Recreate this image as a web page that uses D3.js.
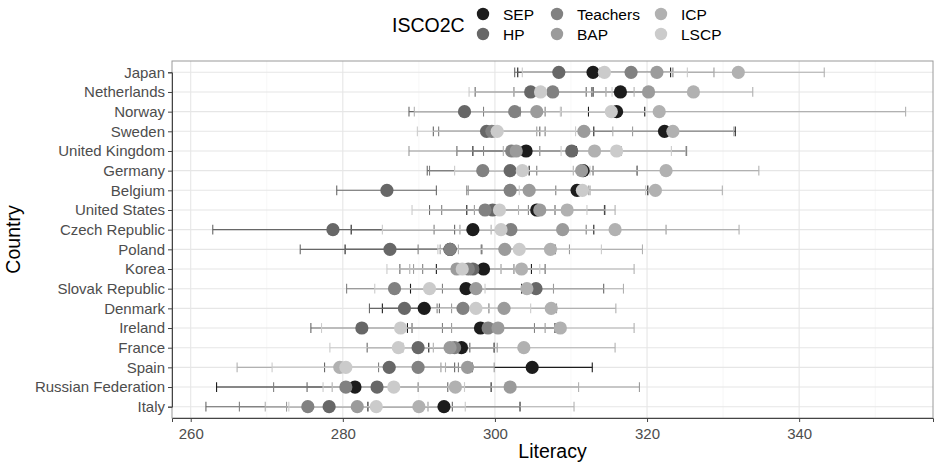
<!DOCTYPE html>
<html>
<head>
<meta charset="utf-8">
<script src="https://cdn.jsdelivr.net/npm/d3@7"></script>
<style>
  body { margin: 0; background: #fff; }
  svg { font-family: "Liberation Sans", Arial, sans-serif; }
</style>
</head>
<body>
<svg width="936" height="462"></svg>
<script>
// countries, top to bottom
var countries = ["Japan", "Netherlands", "Norway", "Sweden", "United Kingdom", "Germany",
  "Belgium", "United States", "Czech Republic", "Poland", "Korea", "Slovak Republic",
  "Denmark", "Ireland", "France", "Spain", "Russian Federation", "Italy"];

var groups = ["SEP", "HP", "Teachers", "BAP", "ICP", "LSCP"];
var groupColors = ["#1c1c1c", "#676767", "#818181", "#9b9b9b", "#b1b1b1", "#cbcbcb"];

var xTicks = [260, 280, 300, 320, 340];

// literacy estimates and interval ends, one value per country
var sepEst = [312.9, 316.5, 316.0, 322.3, 304.1, 311.6, 310.8, 305.5, 297.1, 294.1, 298.5, 296.2, 290.7, 298.1, 295.6, 304.9, 281.6, 293.3];
var sepLo  = [303.0, 312.9, 312.3, 313.0, 297.1, 304.5, 301.5, 296.3, 281.1, 280.3, 292.3, 288.9, 285.2, 288.5, 291.3, 297.0, 263.4, 283.3];
var sepHi  = [323.1, 320.1, 319.7, 331.6, 310.7, 318.7, 320.1, 314.4, 313.0, 307.9, 304.8, 303.5, 296.2, 307.9, 299.9, 312.8, 299.5, 303.3];

var hpEst = [308.4, 304.7, 296.0, 298.9, 310.1, 302.0, 285.8, 299.7, 278.7, 286.2, 297.1, 305.4, 288.1, 282.5, 289.9, 286.1, 284.5, 278.2];
var hpLo  = [302.6, 297.4, 288.7, 291.9, 295.0, 291.1, 279.2, 291.4, 262.9, 274.4, 287.5, 296.4, 283.5, 275.8, 283.2, 277.6, 275.3, 262.0];
var hpHi  = [314.2, 312.0, 303.3, 305.9, 325.2, 312.9, 292.3, 307.9, 294.7, 298.2, 306.6, 314.3, 292.7, 289.1, 296.7, 294.7, 293.8, 294.4];

var teachEst = [317.9, 307.6, 302.6, 299.6, 302.2, 298.4, 302.0, 298.7, 302.1, 294.1, 296.5, 286.8, 295.8, 299.1, 294.7, 289.9, 280.4, 275.4];
var teachLo  = [312.4, 302.5, 298.5, 292.6, 298.5, 291.4, 296.3, 293.0, 292.0, 289.9, 290.5, 280.5, 292.4, 293.1, 289.5, 284.7, 270.9, 266.4];
var teachHi  = [323.4, 312.7, 306.6, 306.6, 305.9, 305.5, 308.0, 304.4, 312.0, 298.3, 302.5, 293.1, 299.2, 305.2, 299.9, 295.2, 289.9, 284.4];

var bapEst = [321.3, 320.2, 305.5, 311.7, 302.8, 311.4, 304.5, 305.9, 308.9, 301.3, 295.0, 297.5, 301.2, 300.4, 294.1, 296.4, 302.0, 281.9];
var bapLo  = [313.8, 314.6, 302.3, 305.5, 288.7, 304.1, 296.5, 297.3, 295.4, 292.8, 289.3, 287.3, 294.3, 294.3, 287.9, 292.9, 285.0, 272.6];
var bapHi  = [328.8, 325.7, 308.7, 318.1, 316.6, 318.7, 312.5, 314.5, 322.5, 309.8, 300.8, 307.7, 308.1, 306.6, 300.3, 299.9, 319.0, 291.2];

var icpEst = [332.0, 326.1, 321.6, 323.4, 313.1, 322.5, 321.1, 309.5, 315.8, 307.3, 303.5, 304.2, 307.4, 308.6, 303.8, 279.6, 294.8, 290.0];
var icpLo  = [320.7, 318.3, 289.4, 315.5, 301.1, 310.3, 312.3, 303.1, 299.5, 295.2, 288.8, 291.4, 299.2, 298.9, 291.9, 266.1, 278.6, 269.8];
var icpHi  = [343.3, 333.9, 354.0, 331.4, 325.1, 334.7, 329.9, 315.8, 332.1, 319.4, 318.3, 316.9, 315.9, 318.3, 315.8, 293.5, 311.0, 310.4];

var lscpEst = [314.4, 306.0, 315.3, 300.3, 316.0, 303.6, 311.5, 300.6, 300.8, 303.2, 295.7, 291.4, 297.5, 287.6, 287.3, 280.4, 286.7, 284.4];
var lscpLo  = [303.6, 296.6, 308.6, 289.8, 308.7, 294.7, 303.2, 289.1, 285.2, 292.5, 285.8, 284.2, 290.3, 277.2, 278.3, 270.7, 277.4, 272.9];
var lscpHi  = [325.3, 315.4, 322.0, 310.6, 323.2, 312.5, 319.8, 312.1, 316.4, 314.0, 305.9, 298.7, 304.7, 298.0, 296.3, 290.1, 296.0, 296.1];

var seriesEst = [sepEst, hpEst, teachEst, bapEst, icpEst, lscpEst];
var seriesLo = [sepLo, hpLo, teachLo, bapLo, icpLo, lscpLo];
var seriesHi = [sepHi, hpHi, teachHi, bapHi, icpHi, lscpHi];

var rows = [];
groups.forEach(function(g, gi) {
  countries.forEach(function(c, ci) {
    rows.push({group: g, gi: gi, country: c, est: seriesEst[gi][ci], lo: seriesLo[gi][ci], hi: seriesHi[gi][ci]});
  });
});

var panel = {left: 172, right: 933, top: 61, bottom: 418};
var svg = d3.select("svg");

var x = d3.scaleLinear().domain([257.54, 357.6]).range([panel.left, panel.right]);
var y = d3.scalePoint().domain(countries).range([72.3, 406.7]);
var color = d3.scaleOrdinal().domain(groups).range(groupColors);

// grid
var grid = svg.append("g");
d3.range(270, 360, 20).forEach(function(v) {
  grid.append("line").attr("x1", x(v)).attr("x2", x(v)).attr("y1", panel.top).attr("y2", panel.bottom)
    .attr("stroke", "#f2f2f2").attr("stroke-width", 0.6);
});
xTicks.forEach(function(v) {
  grid.append("line").attr("x1", x(v)).attr("x2", x(v)).attr("y1", panel.top).attr("y2", panel.bottom)
    .attr("stroke", "#e6e6e6").attr("stroke-width", 1.1);
});
countries.forEach(function(c) {
  grid.append("line").attr("x1", panel.left).attr("x2", panel.right).attr("y1", y(c)).attr("y2", y(c))
    .attr("stroke", "#e6e6e6").attr("stroke-width", 1.1);
});

// panel border
svg.append("rect").attr("x", panel.left).attr("y", panel.top)
  .attr("width", panel.right - panel.left).attr("height", panel.bottom - panel.top)
  .attr("fill", "none").attr("stroke", "#9a9a9a").attr("stroke-width", 1);

// error bars
var bars = svg.append("g").selectAll("g").data(rows).enter().append("g")
  .attr("stroke", function(d) { return color(d.group); }).attr("stroke-width", 1.1);
bars.append("line").attr("x1", function(d) { return x(d.lo); }).attr("x2", function(d) { return x(d.hi); })
  .attr("y1", function(d) { return y(d.country); }).attr("y2", function(d) { return y(d.country); });
bars.append("line").attr("x1", function(d) { return x(d.lo); }).attr("x2", function(d) { return x(d.lo); })
  .attr("y1", function(d) { return y(d.country) - 4.9; }).attr("y2", function(d) { return y(d.country) + 4.9; });
bars.append("line").attr("x1", function(d) { return x(d.hi); }).attr("x2", function(d) { return x(d.hi); })
  .attr("y1", function(d) { return y(d.country) - 4.9; }).attr("y2", function(d) { return y(d.country) + 4.9; });

// points
svg.append("g").selectAll("circle").data(rows).enter().append("circle")
  .attr("cx", function(d) { return x(d.est); })
  .attr("cy", function(d) { return y(d.country); })
  .attr("r", 6.6)
  .attr("fill", function(d) { return color(d.group); });

// axes
var xAxis = svg.append("g").attr("transform", "translate(0," + panel.bottom + ")")
  .call(d3.axisBottom(x).tickValues(xTicks).tickSize(4).tickPadding(6));
var yAxis = svg.append("g").attr("transform", "translate(" + panel.left + ",0)")
  .call(d3.axisLeft(y).tickSize(4).tickPadding(3));
[xAxis, yAxis].forEach(function(a) {
  a.select(".domain").attr("stroke", "#444");
  a.selectAll(".tick line").attr("stroke", "#444");
  a.selectAll(".tick text").attr("fill", "#4d4d4d").style("font-size", "15px")
    .style("font-family", "Liberation Sans, Arial, sans-serif");
});

// axis titles
svg.append("text").attr("x", (panel.left + panel.right) / 2).attr("y", 458)
  .attr("text-anchor", "middle").style("font-size", "19.5px").text("Literacy");
svg.append("text").attr("transform", "translate(20," + ((panel.top + panel.bottom) / 2) + ") rotate(-90)")
  .attr("text-anchor", "middle").style("font-size", "19.5px").text("Country");

// legend
var legend = svg.append("g");
legend.append("text").attr("x", 392).attr("y", 32).style("font-size", "19.5px").text("ISCO2C");
var keyX = [483, 557, 661];
groups.forEach(function(g, i) {
  var kx = keyX[Math.floor(i / 2)], ky = i % 2 === 0 ? 14 : 34;
  legend.append("circle").attr("cx", kx).attr("cy", ky).attr("r", 6.2).attr("fill", color(g));
  legend.append("text").attr("x", kx + 20).attr("y", ky + 5.5).style("font-size", "15.5px").text(g);
});
</script>
</body>
</html>
